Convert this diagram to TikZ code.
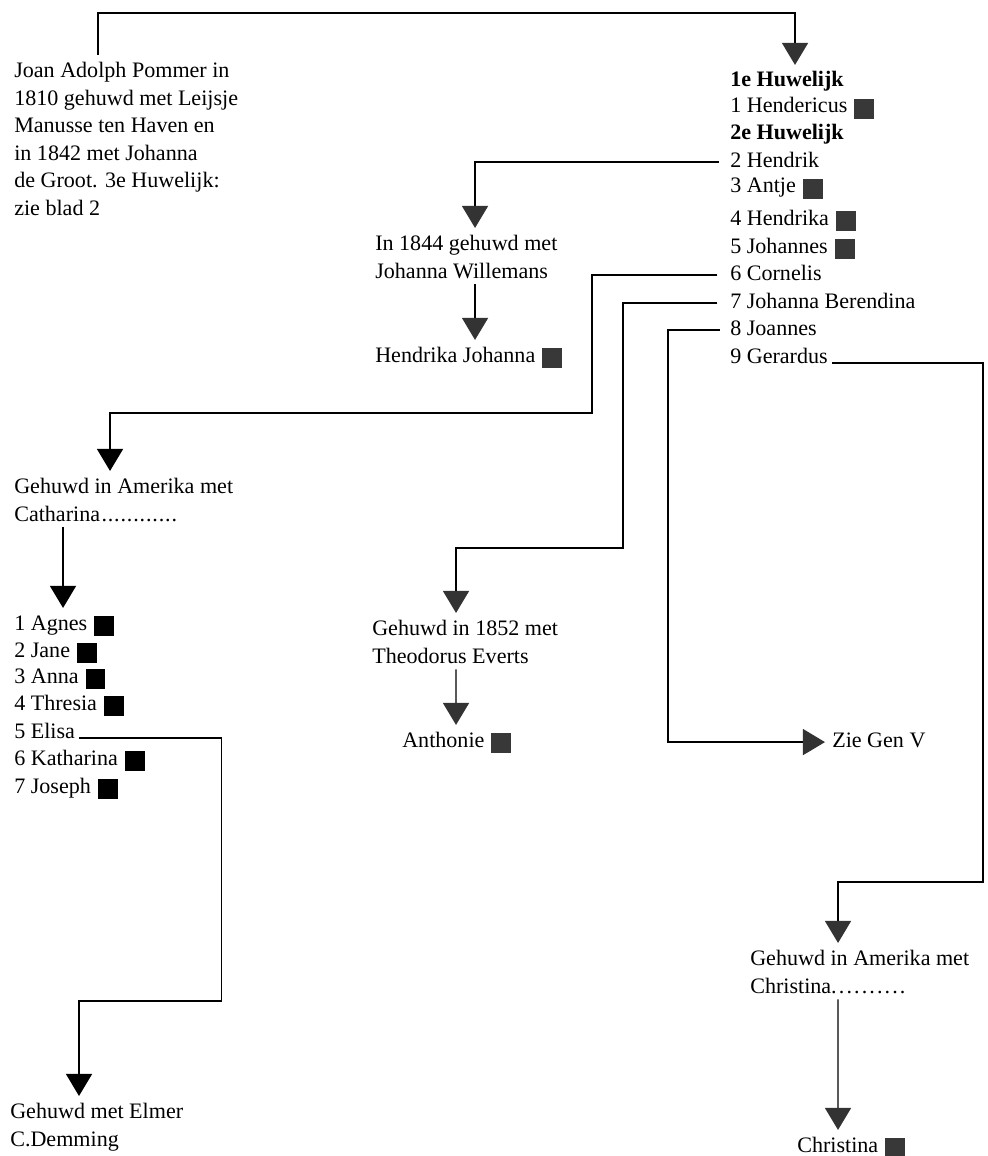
\documentclass[tikz,border=0pt]{standalone}
\usepackage{fontspec}
\setmainfont{Liberation Serif}
\usepackage{xcolor}
\usepackage{tikz}
\usetikzlibrary{arrows.meta}

\definecolor{sqgray}{gray}{0.22}
\definecolor{tipgray}{gray}{0.2}
\newcommand{\dood}[1][sqgray]{\hspace{5pt}\textcolor{#1}{\rule[-4pt]{14pt}{14pt}}}
\newcommand{\stippel}[2]{\foreach \i in {1,...,#1}{.\kern#2}}

\begin{document}
\begin{tikzpicture}
                \tikzset{x={(0.025cm, 0cm)}, y={(0cm, -0.025cm)}}
                \tikzset{txt/.style={inner sep=0pt, font=\fontsize{15.7}{19.6}\selectfont},
                         note/.style={txt, align=left, anchor=north west},
                         item/.style={txt, anchor=base west, text height=10.5pt, text depth=3.5pt},
                         link/.style={line width=1pt, shorten >=5pt, -{Triangle[width=0.65cm, length=0.55cm, color=tipgray, fill=tipgray]}},
                         darklink/.style={link, -{Triangle[width=0.65cm, length=0.55cm]}}}
                \useasboundingbox (0, 0) rectangle (987, 1156);
                \node[note] (root) at (14, 62) {Joan Adolph Pommer in\\1810 gehuwd met Leijsje\\Manusse ten Haven en\\in 1842 met Johanna\\de Groot. 3e Huwelijk:\\zie blad 2};
                \node[item] (h0) at (730, 87) {\bfseries 1e Huwelijk};
                \node[item] (h1) at (730, 113) {1 Hendericus\dood};
                \node[item] (h2) at (730, 140) {\bfseries 2e Huwelijk};
                \node[item] (h3) at (730, 167) {2 Hendrik};
                \node[item] (h4) at (730, 193) {3 Antje\dood};
                \node[item] (h5) at (730, 225) {4 Hendrika\dood};
                \node[item] (h6) at (730, 253) {5 Johannes\dood};
                \node[item] (h7) at (730, 280) {6 Cornelis};
                \node[item] (h8) at (730, 308) {7 Johanna Berendina};
                \node[item] (h9) at (730, 335) {8 Joannes};
                \node[item] (h10) at (730, 363) {9 Gerardus};
                \node[note] (wed2) at (375, 235) {In 1844 gehuwd met\\Johanna Willemans};
                \node[item] (hj) at (375, 362) {Hendrika Johanna\dood};
                \node[note] (catA) at (14, 478) {Gehuwd in Amerika met\\Catharina\kern1pt\stippel{12}{0.6pt}};
                \node[item] (k1) at (14, 630) {1 Agnes\dood[black]};
                \node[item] (k2) at (14, 657) {2 Jane\dood[black]};
                \node[item] (k3) at (14, 683) {3 Anna\dood[black]};
                \node[item] (k4) at (14, 710) {4 Thresia\dood[black]};
                \node[item] (k5) at (14, 738) {5 Elisa};
                \node[item] (k6) at (14, 765) {6 Katharina\dood[black]};
                \node[item] (k7) at (14, 793) {7 Joseph\dood[black]};
                \node[note] (elmer) at (10, 1103) {Gehuwd met Elmer\\C.Demming};
                \node[note] (ev) at (372, 620) {Gehuwd in 1852 met\\Theodorus Everts};
                \node[item] (anth) at (402, 747) {Anthonie\dood};
                \node[item] (gen5) at (832, 747) {Zie Gen V};
                \node[note] (chrA) at (750, 950) {Gehuwd in Amerika met\\Christina\stippel{10}{1.5pt}};
                \node[item] (chr) at (797, 1152) {Christina\dood};
                \draw[link, shorten <=5pt] ([xshift=2.1cm]root.north west) -- ++(0, -49) -| ([xshift=1.625cm]h0.north west);
                \draw[link, shorten <=8pt] (h3.west) -| ([xshift=2.5cm]wed2.north west);
                \draw[link, shorten <=4pt] ([xshift=2.5cm]wed2.south west) -- ([xshift=2.5cm]hj.north west);
                \draw[darklink, shorten <=9pt] (h7.west) -- ++(-138, 0) -- ++(0, 138) -| ([xshift=2.4cm]catA.north west);
                \draw[darklink, shorten <=4pt] ([xshift=1.225cm]catA.south west) -- ([xshift=1.225cm]k1.north west);
                \draw[darklink, shorten <=3pt] (k5.base east) -- ++(146, 0) -- ++(0, 263) -| ([xshift=1.725cm]elmer.north west);
                \draw[link, shorten <=9pt] (h8.west) -- ++(-107, 0) -- ++(0, 245) -| ([xshift=2.1cm]ev.north west);
                \draw[link, shorten <=4pt] ([xshift=2.1cm]ev.south west) -- ([xshift=1.35cm]anth.north west);
                \draw[link, shorten <=7pt] (h9.west) -- ++(-62, 0) |- (gen5.west);
                \draw[link, shorten <=3pt] (h10.base east) -- ++(155, 0) -- ++(0, 519) -| ([xshift=2.2cm]chrA.north west);
                \draw[link, shorten <=4pt] ([xshift=2.2cm]chrA.south west) -- ([xshift=1.025cm]chr.north west);
            \end{tikzpicture}
\end{document}
